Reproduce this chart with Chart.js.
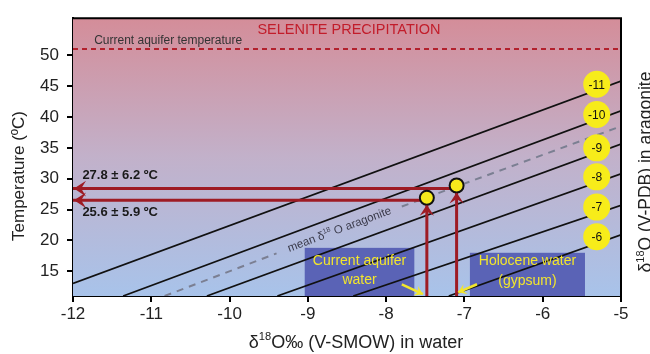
<!DOCTYPE html>
<html>
<head>
<meta charset="utf-8">
<script src="https://cdn.jsdelivr.net/npm/chart.js@4.4.1/dist/chart.umd.min.js"></script>
<style>
  html, body { margin: 0; padding: 0; background: #fff; }
  #wrap { width: 650px; height: 354px; }
</style>
</head>
<body>
<div id="wrap"><canvas id="c"></canvas></div>
<script>
// Ticks
const xTicks = [-12, -11, -10, -9, -8, -7, -6, -5];
const yTicks = [15, 20, 25, 30, 35, 40, 45, 50];

// Aragonite isolines (delta18O aragonite, V-PDB), endpoints
const aragoniteValues = [-11, -10, -9, -8, -7, -6];
const lineStartX = [-12, -11.36, -10.29, -9.39, -8.42, -7.2];
const lineStartT = [13.05, 11, 11, 11, 11, 11];
const lineEndX = [-5, -5, -5, -5, -5, -5];
const lineEndT = [45.8, 41.0, 35.6, 30.8, 25.7, 20.9];
const labelX = -5.31;
const labelT = [45.3, 40.4, 35.0, 30.3, 25.4, 20.6];

// Mean aragonite line (dashed, broken where the label sits)
const meanX = [-10.83, -9.4, null, -7.8, -5];
const meanT = [11, 17.9, null, 25.5, 38.5];

// Current aquifer temperature
const aquiferTemp = 51;

// Water samples: current aquifer, Holocene (gypsum)
const waterX = [-7.48, -7.1];
const pointT = [26.9, 28.9];
const arrowT = [26.5, 28.4];
const tempLabels = ["25.6 ± 5.9 ºC", "27.8 ± 6.2 ºC"];

const FONT = "'Liberation Sans', Arial, sans-serif";

function drawRich(ctx, parts, x, y, size, align) {
  // parts: [text, isSuperscript]
  let w = 0;
  parts.forEach(([t, sup]) => {
    ctx.font = (sup ? size * 0.62 : size) + "px " + FONT;
    w += ctx.measureText(t).width;
  });
  let cx = align === "center" ? x - w / 2 : x;
  ctx.textAlign = "left";
  ctx.textBaseline = "alphabetic";
  parts.forEach(([t, sup]) => {
    ctx.font = (sup ? size * 0.62 : size) + "px " + FONT;
    ctx.fillText(t, cx, sup ? y - size * 0.42 : y);
    cx += ctx.measureText(t).width;
  });
}

function arrowHead(ctx, x, y, dir, size, color) {
  // dir: angle the arrow points to
  ctx.save();
  ctx.translate(x, y);
  ctx.rotate(dir);
  ctx.fillStyle = color;
  ctx.beginPath();
  ctx.moveTo(0, 0);
  ctx.lineTo(-size, -size * 0.65);
  ctx.lineTo(-size * 0.6, 0);
  ctx.lineTo(-size, size * 0.65);
  ctx.closePath();
  ctx.fill();
  ctx.restore();
}

const figurePlugin = {
  id: "figure",
  beforeDatasetsDraw(chart) {
    const { ctx, chartArea: a, scales: { x, y } } = chart;
    ctx.save();
    const g = ctx.createLinearGradient(0, a.top, 0, a.bottom);
    g.addColorStop(0, "#d48d99");
    g.addColorStop(0.5, "#c2b1ca");
    g.addColorStop(1, "#a8c3ea");
    ctx.fillStyle = g;
    ctx.fillRect(a.left, a.top, a.right - a.left, a.bottom - a.top);

    // blue boxes
    ctx.fillStyle = "#5a63b6";
    const b1 = [x.getPixelForValue(-9.04), y.getPixelForValue(18.8), x.getPixelForValue(-7.64)];
    ctx.fillRect(b1[0], b1[1], b1[2] - b1[0], a.bottom - b1[1]);
    const b2 = [x.getPixelForValue(-6.93), y.getPixelForValue(18.0), x.getPixelForValue(-5.46)];
    ctx.fillRect(b2[0], b2[1], b2[2] - b2[0], a.bottom - b2[1]);
    ctx.restore();
  },
  afterDatasetsDraw(chart) {
    const { ctx, chartArea: a, scales: { x, y } } = chart;
    const red = "#9e1b24";
    ctx.save();

    // arrowheads of red arrows
    waterX.forEach((wx, i) => {
      arrowHead(ctx, a.left + 1, y.getPixelForValue(arrowT[i]), Math.PI, 12, red);
      arrowHead(ctx, x.getPixelForValue(wx), y.getPixelForValue(pointT[i]) + 7, -Math.PI / 2, 11, red);
    });

    // numbers in yellow circles
    ctx.fillStyle = "#111";
    ctx.font = "12px " + FONT;
    ctx.textAlign = "center";
    ctx.textBaseline = "middle";
    aragoniteValues.forEach((v, i) => {
      ctx.fillText(String(v), x.getPixelForValue(labelX), y.getPixelForValue(labelT[i]) + 1);
    });

    // temperature labels
    ctx.font = "bold 13px " + FONT;
    ctx.textAlign = "left";
    ctx.fillStyle = "#1a1a1a";
    ctx.fillText(tempLabels[1], x.getPixelForValue(-11.88), y.getPixelForValue(30.6));
    ctx.fillText(tempLabels[0], x.getPixelForValue(-11.88), y.getPixelForValue(24.6));

    // selenite + aquifer temperature text
    ctx.fillStyle = "#c21d2b";
    ctx.font = "14.5px " + FONT;
    ctx.textAlign = "center";
    ctx.fillText("SELENITE PRECIPITATION", (x.getPixelForValue(-9.6) + x.getPixelForValue(-7.35)) / 2, y.getPixelForValue(54.1));
    ctx.fillStyle = "#333";
    ctx.font = "12px " + FONT;
    ctx.textAlign = "left";
    ctx.fillText("Current aquifer temperature", x.getPixelForValue(-11.73), y.getPixelForValue(52.3));

    // mean aragonite label, rotated along the line
    const p0 = [x.getPixelForValue(-9.4), y.getPixelForValue(17.9)];
    const p1 = [x.getPixelForValue(-7.8), y.getPixelForValue(25.5)];
    ctx.save();
    ctx.translate((p0[0] + p1[0]) / 2, (p0[1] + p1[1]) / 2 - 1);
    ctx.rotate(Math.atan2(p1[1] - p0[1], p1[0] - p0[0]));
    ctx.fillStyle = "#3a3a4a";
    drawRich(ctx, [["mean δ", false], ["18", true], [" O aragonite", false]], 0, 4, 11.5, "center");
    ctx.restore();

    // box texts
    ctx.fillStyle = "#f3e62c";
    ctx.font = "14px " + FONT;
    ctx.textAlign = "center";
    ctx.textBaseline = "middle";
    const c1 = x.getPixelForValue(-8.34), c2 = x.getPixelForValue(-6.195);
    ctx.fillText("Current aquifer", c1, y.getPixelForValue(16.6));
    ctx.fillText("water", c1, y.getPixelForValue(13.6));
    ctx.fillText("Holocene water", c2, y.getPixelForValue(16.6));
    ctx.fillText("(gypsum)", c2, y.getPixelForValue(13.4));

    // yellow pointer arrows
    const yel = "#f3e62c";
    [[-7.80, 12.9, -7.53, 11.3], [-6.84, 12.9, -7.08, 11.6]].forEach(([x0, t0, x1, t1]) => {
      const X0 = x.getPixelForValue(x0), Y0 = y.getPixelForValue(t0);
      const X1 = x.getPixelForValue(x1), Y1 = y.getPixelForValue(t1);
      ctx.strokeStyle = yel;
      ctx.lineWidth = 2.5;
      ctx.beginPath();
      ctx.moveTo(X0, Y0);
      ctx.lineTo(X1, Y1);
      ctx.stroke();
      arrowHead(ctx, X1, Y1, Math.atan2(Y1 - Y0, X1 - X0), 8, yel);
    });

    // frame top & right
    ctx.strokeStyle = "#000";
    ctx.lineWidth = 2;
    ctx.beginPath();
    ctx.moveTo(a.left, a.top);
    ctx.lineTo(a.right, a.top);
    ctx.lineTo(a.right, a.bottom);
    ctx.stroke();
    ctx.restore();
  },
  afterDraw(chart) {
    const { ctx, chartArea: a } = chart;
    ctx.save();
    ctx.fillStyle = "#222";
    // x title
    drawRich(ctx, [["δ", false], ["18", true], ["O‰ (V-SMOW) in water", false]], (a.left + a.right) / 2 + 9, 348, 18, "center");
    // y title
    ctx.save();
    ctx.translate(24, 176);
    ctx.rotate(-Math.PI / 2);
    ctx.font = "17px " + FONT;
    ctx.textAlign = "center";
    ctx.textBaseline = "alphabetic";
    ctx.fillText("Temperature (ºC)", 0, 0);
    ctx.restore();
    // right title (partly cut off at the page edge)
    ctx.save();
    ctx.translate(651, 172);
    ctx.rotate(-Math.PI / 2);
    drawRich(ctx, [["δ", false], ["18", true], ["O (V-PDB) in aragonite", false]], 0, 0, 17.5, "center");
    ctx.restore();
    ctx.restore();
  }
};

const datasets = [];
// sample points (on top)
datasets.push({
  type: "scatter",
  data: waterX.map((v, i) => ({ x: v, y: pointT[i] })),
  pointRadius: 7,
  pointBackgroundColor: "#f6ea1c",
  pointBorderColor: "#111",
  pointBorderWidth: 2
});
// yellow label circles
datasets.push({
  type: "scatter",
  data: labelT.map(t => ({ x: labelX, y: t })),
  pointRadius: 13.5,
  pointBackgroundColor: "#f7ec1a",
  pointBorderWidth: 0
});
// red arrows
waterX.forEach((wx, i) => {
  datasets.push({
    type: "line",
    data: [{ x: -12, y: arrowT[i] }, { x: wx, y: arrowT[i] }],
    borderColor: "#9e1b24", borderWidth: 3, pointRadius: 0
  });
  datasets.push({
    type: "line",
    data: [{ x: wx, y: 11 }, { x: wx, y: pointT[i] }],
    borderColor: "#9e1b24", borderWidth: 3, pointRadius: 0
  });
});
// aragonite isolines
aragoniteValues.forEach((v, i) => {
  datasets.push({
    type: "line",
    data: [{ x: lineStartX[i], y: lineStartT[i] }, { x: lineEndX[i], y: lineEndT[i] }],
    borderColor: "#111", borderWidth: 1.7, pointRadius: 0
  });
});
// mean aragonite
datasets.push({
  type: "line",
  data: meanX.map((v, i) => ({ x: v, y: meanT[i] })),
  borderColor: "#7b7f92", borderWidth: 2, borderDash: [7, 6], pointRadius: 0, spanGaps: false
});
// current aquifer temperature
datasets.push({
  type: "line",
  data: [{ x: -12, y: aquiferTemp }, { x: -5, y: aquiferTemp }],
  borderColor: "#b3202c", borderWidth: 2, borderDash: [5, 4], pointRadius: 0
});

new Chart(document.getElementById("c"), {
  type: "scatter",
  data: { datasets },
  options: {
    responsive: true,
    maintainAspectRatio: false,
    animation: false,
    layout: { padding: { top: 14, right: 29, left: 0, bottom: 0 } },
    plugins: { legend: { display: false }, tooltip: { enabled: false } },
    scales: {
      x: {
        type: "linear", min: -12, max: -5,
        afterFit: (s) => { s.height = 58; },
        afterBuildTicks: (s) => { s.ticks = xTicks.map(v => ({ value: v })); },
        ticks: { font: { family: FONT, size: 17 }, color: "#222", padding: 2, callback: v => String(v) },
        grid: { drawOnChartArea: false, drawTicks: true, tickLength: 6, color: "#000", lineWidth: 2 },
        border: { color: "#000", width: 2 }
      },
      y: {
        type: "linear", min: 11, max: 56,
        afterFit: (s) => { s.width = 73; },
        afterBuildTicks: (s) => { s.ticks = yTicks.map(v => ({ value: v })); },
        ticks: { font: { family: FONT, size: 17 }, color: "#222", padding: 8, callback: v => String(v) },
        grid: { drawOnChartArea: false, drawTicks: true, tickLength: 6, color: "#000", lineWidth: 2 },
        border: { color: "#000", width: 2 }
      }
    }
  },
  plugins: [figurePlugin]
});
</script>
</body>
</html>
